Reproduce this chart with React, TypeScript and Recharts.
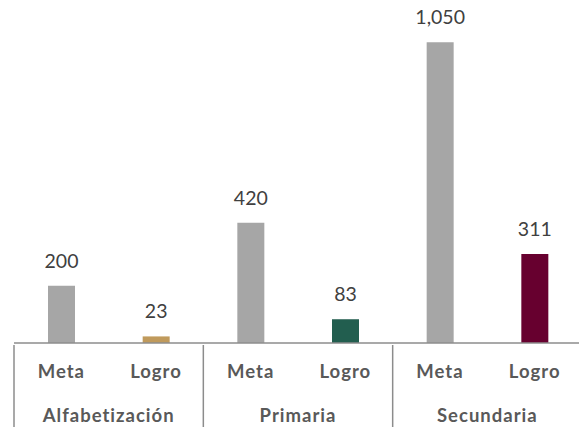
import { BarChart, Bar, XAxis, YAxis, Cell, LabelList } from 'recharts'

const tipos = ['Meta', 'Logro', 'Meta', 'Logro', 'Meta', 'Logro']
const grupos = ['Alfabetización', 'Alfabetización', 'Primaria', 'Primaria', 'Secundaria', 'Secundaria']
const valores = [200, 23, 420, 83, 1050, 311]
const colores = ['#A6A6A6', '#C09A5C', '#A6A6A6', '#225E4F', '#A6A6A6', '#67002F']

const data = valores.map((valor, i) => ({ id: i, tipo: tipos[i], grupo: grupos[i], valor }))

const W = 579
const H = 427
const margin = { top: 28, right: -3, left: 14, bottom: 0 }
const band = (W - margin.left - margin.right) / data.length
const axis1H = 38
const axis2H = 46
const lineColor = '#8C8C8C'
const font = 'Lato, "Open Sans", sans-serif'

function TipoTick({ x, y, payload }: any) {
  return (
    <text x={x} y={y + 28} textAnchor="middle" dominantBaseline="middle" fontSize={18.5} fontWeight={700} letterSpacing={1} fill="#595959" fontFamily={font}>
      {tipos[payload.index]}
    </text>
  )
}

function GrupoTick({ x, y, payload }: any) {
  const i = payload.index
  if (i % 2 !== 0) return <g />
  const left = x - band / 2
  return (
    <g>
      <line x1={left} x2={left} y1={y - axis1H} y2={H} stroke={lineColor} strokeWidth={1.5} />
      <text x={left + band} y={y + 34} textAnchor="middle" dominantBaseline="middle" fontSize={18.5} fontWeight={700} letterSpacing={1} fill="#595959" fontFamily={font}>
        {grupos[i]}
      </text>
    </g>
  )
}

export default function App() {
  return (
    <div style={{ position: 'absolute', left: 0, top: 0, width: W, height: H, background: '#fff' }}>
      <BarChart width={W} height={H} data={data} margin={margin} barSize={27}>
        <XAxis
          dataKey="id"
          axisLine={{ stroke: lineColor, strokeWidth: 1.5 }}
          tickLine={false}
          tickSize={0}
          height={axis1H}
          interval={0}
          tick={<TipoTick />}
        />
        <XAxis
          xAxisId="grupo"
          dataKey="id"
          axisLine={false}
          tickLine={false}
          tickSize={0}
          height={axis2H}
          interval={0}
          tick={<GrupoTick />}
        />
        <YAxis hide domain={[0, 1100]} />
        <Bar dataKey="valor" isAnimationActive={false}>
          {data.map((d, i) => (
            <Cell key={d.id} fill={colores[i]} />
          ))}
          <LabelList
            dataKey="valor"
            position="top"
            offset={18}
            fontSize={19.5}
            fill="#404040"
            fontFamily={font}
            formatter={(v: any) => Number(v).toLocaleString('en-US')}
          />
        </Bar>
      </BarChart>
    </div>
  )
}
